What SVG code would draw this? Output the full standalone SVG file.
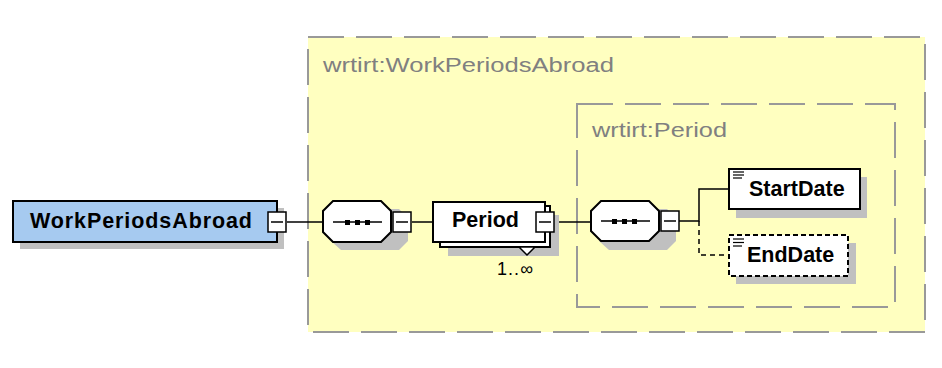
<svg xmlns="http://www.w3.org/2000/svg" width="942" height="368" viewBox="0 0 942 368">
<style>
.shadow{fill:#c0c0c0;stroke:none}
.box{stroke:#000;stroke-width:2}
.btn{fill:#fff;stroke:#000;stroke-width:1.5}
.minus{stroke:#000;stroke-width:1.5}
.conn{fill:none;stroke:#000;stroke-width:1.5}
.dconn{fill:none;stroke:#000;stroke-width:1.5;stroke-dasharray:5 4}
.frame{stroke:#999;stroke-width:2;stroke-dasharray:36 12}
.lbl{font-family:"Liberation Sans",Arial,sans-serif;font-size:20px;fill:#808080}
.name{font-family:"Liberation Sans",Arial,sans-serif;font-size:21.5px;font-weight:bold;fill:#000}
.occ{font-family:"Liberation Sans",Arial,sans-serif;font-size:18px;fill:#000}
.icon{stroke:#000;stroke-width:1.2}
</style>
<rect width="942" height="368" fill="#fff"/>
<g id="type-WorkPeriodsAbroad">
<rect x="308" y="37" width="617" height="295" fill="#ffffc0" class="frame"/>
<text x="323" y="72" class="lbl" textLength="291" lengthAdjust="spacingAndGlyphs">wrtirt:WorkPeriodsAbroad</text>
</g>
<g id="type-Period">
<rect x="577" y="104" width="318" height="203" fill="none" class="frame"/>
<text x="592" y="137" class="lbl" textLength="135" lengthAdjust="spacingAndGlyphs">wrtirt:Period</text>
</g>
<g id="connectors">
<line x1="287" y1="222" x2="323" y2="222" class="conn"/>
<line x1="412" y1="222" x2="433" y2="222" class="conn"/>
<line x1="555" y1="222" x2="591" y2="222" class="conn"/>
<polyline points="679,221 699,221 699,189 729,189" class="conn"/>
<polyline points="699,221 699,255 729,255" class="dconn"/>
</g>
<g id="WorkPeriodsAbroad">
<rect x="20" y="208" width="264" height="41" class="shadow"/>
<rect x="13" y="201" width="264" height="41" fill="#a6caf0" class="box"/>
<text x="30" y="228" class="name" textLength="222">WorkPeriodsAbroad</text>
<rect x="268" y="212" width="18" height="20" class="btn"/>
<line x1="271" y1="222" x2="283" y2="222" class="minus"/>
</g>
<g id="sequence1">
<polygon points="341,209 399,209 408,218 408,241 399,250 341,250 331,241 331,218" class="shadow"/>
<polygon points="333,201 381,201 391,211 391,232 381,242 333,242 323,232 323,211" fill="#fff" class="box"/>
<line x1="333" y1="222" x2="382" y2="222" stroke="#000" stroke-width="1.5"/>
<rect x="345" y="220" width="5" height="5" fill="#000"/>
<rect x="355" y="220" width="5" height="5" fill="#000"/>
<rect x="365" y="220" width="5" height="5" fill="#000"/>
<rect x="393" y="212" width="18" height="20" class="btn"/>
<line x1="396" y1="222" x2="408" y2="222" class="minus"/>
</g>
<g id="Period">
<rect x="448" y="215" width="111" height="41" class="shadow"/>
<rect x="440" y="206" width="110" height="41" fill="#fff" class="box"/>
<rect x="433" y="202" width="112" height="40" fill="#fff" class="box"/>
<polygon points="519,247 527,255 535,247" fill="#fff" stroke="#000" stroke-width="1.5"/>
<text x="452" y="227" class="name">Period</text>
<rect x="536" y="212" width="18" height="20" class="btn"/>
<line x1="539" y1="222" x2="551" y2="222" class="minus"/>
<text x="497" y="275" class="occ" textLength="36">1..∞</text>
</g>
<g id="sequence2">
<polygon points="609,209 667,209 676,218 676,241 667,250 609,250 599,241 599,218" class="shadow"/>
<polygon points="601,201 649,201 659,211 659,231 649,241 601,241 591,231 591,211" fill="#fff" class="box"/>
<line x1="601" y1="221" x2="650" y2="221" stroke="#000" stroke-width="1.5"/>
<rect x="612" y="219" width="5" height="5" fill="#000"/>
<rect x="622" y="219" width="5" height="5" fill="#000"/>
<rect x="632" y="219" width="5" height="5" fill="#000"/>
<rect x="661" y="211" width="18" height="20" class="btn"/>
<line x1="664" y1="221" x2="676" y2="221" class="minus"/>
</g>
<g id="StartDate">
<rect x="736" y="177" width="131" height="41" class="shadow"/>
<rect x="729" y="169" width="131" height="40" fill="#fff" class="box"/>
<line x1="733" y1="172" x2="744" y2="172" class="icon"/>
<line x1="733" y1="175" x2="744" y2="175" class="icon"/>
<line x1="733" y1="178" x2="742" y2="178" class="icon"/>
<text x="749" y="196" class="name">StartDate</text>
</g>
<g id="EndDate">
<rect x="736" y="243" width="120" height="41" class="shadow"/>
<rect x="729" y="235" width="119" height="41" fill="#fff" stroke="#000" stroke-width="2" stroke-dasharray="5 3"/>
<line x1="733" y1="239" x2="744" y2="239" class="icon"/>
<line x1="733" y1="242.5" x2="744" y2="242.5" class="icon"/>
<line x1="733" y1="246" x2="742" y2="246" class="icon"/>
<text x="747" y="262" class="name">EndDate</text>
</g>
</svg>
